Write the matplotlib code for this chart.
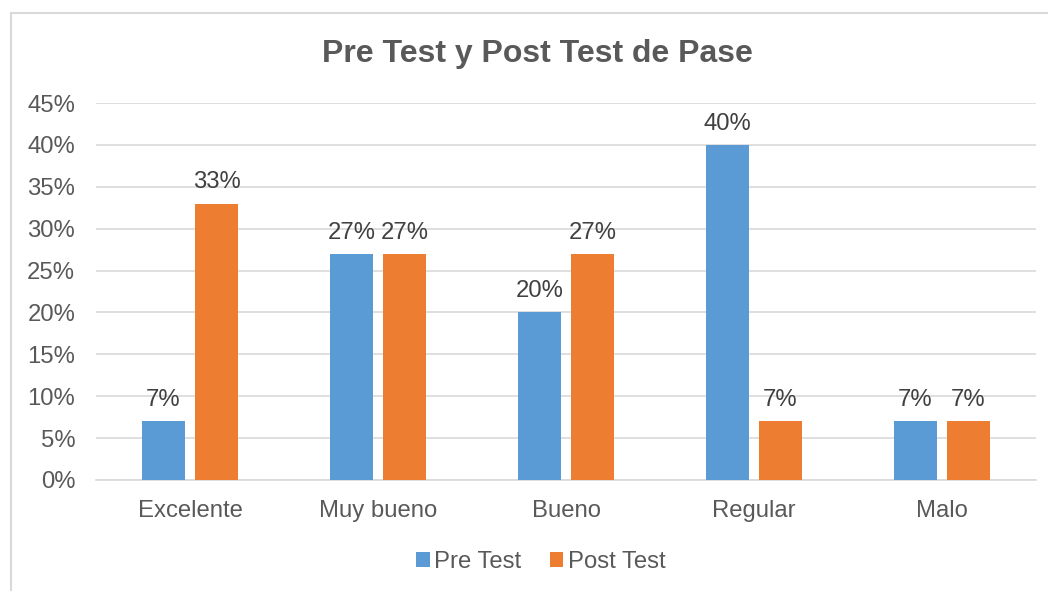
import matplotlib.pyplot as plt
import matplotlib.patches as patches
import numpy as np

plt.rcParams["font.family"] = ["Liberation Sans", "DejaVu Sans"]

categories = ["Excelente", "Muy bueno", "Bueno", "Regular", "Malo"]
pre_test = [7, 27, 20, 40, 7]
post_test = [33, 27, 27, 7, 7]
series_names = ["Pre Test", "Post Test"]
colors = ["#5B9BD5", "#ED7D31"]

fig = plt.figure(figsize=(10.48, 5.91), dpi=100)
W, H = 1048, 591

# outer chart frame (clipped on right/bottom like the screenshot)
frame = patches.Rectangle((10.5 / W, -0.05), 1.1, 1 - 13 / H + 0.05,
                          transform=fig.transFigure, fill=False,
                          edgecolor="#d9d9d9", linewidth=1.5, zorder=0)
fig.add_artist(frame)

ax = fig.add_axes([96 / W, 1 - 480 / H, (1036 - 96) / W, (480 - 103) / H])

x = np.arange(len(categories))
width = 43 / 188
offset = 26.5 / 188
fs = 17.2

for vals, name, col, off in zip([pre_test, post_test], series_names, colors, [-offset, offset]):
    bars = ax.bar(x + off, vals, width=width, color=col, label=name, zorder=3)
    for b, v in zip(bars, vals):
        ax.text(b.get_x() + b.get_width() / 2, v + 1.2, f"{v}%",
                ha="center", va="bottom", fontsize=fs, color="#404040")

ax.set_xlim(-0.5, len(categories) - 0.5)
ax.set_ylim(0, 45)
ax.set_yticks(np.arange(0, 46, 5))
ax.set_yticklabels([f"{t}%" for t in range(0, 46, 5)])
ax.set_xticks(x)
ax.set_xticklabels(categories)
ax.tick_params(axis="both", length=0, labelsize=fs, labelcolor="#595959")
ax.tick_params(axis="y", pad=15)
ax.tick_params(axis="x", pad=14.5)
ax.grid(axis="y", color="#d9d9d9", linewidth=1.2, zorder=0)
for s in ["top", "right", "left"]:
    ax.spines[s].set_visible(False)
ax.spines["bottom"].set_color("#d9d9d9")
ax.spines["bottom"].set_linewidth(1.2)

fig.text(537 / W, 1 - 54 / H, "Pre Test y Post Test de Pase", ha="center", va="center",
         fontsize=23, fontweight="bold", color="#595959")

fig.legend(loc="center", bbox_to_anchor=(541 / W, 1 - 562 / H), ncol=2, frameon=False,
           fontsize=fs, handlelength=0.55, handleheight=0.55, handletextpad=0.2,
           columnspacing=1.2, labelcolor="#595959")

fig.savefig("out.png", dpi=100)
